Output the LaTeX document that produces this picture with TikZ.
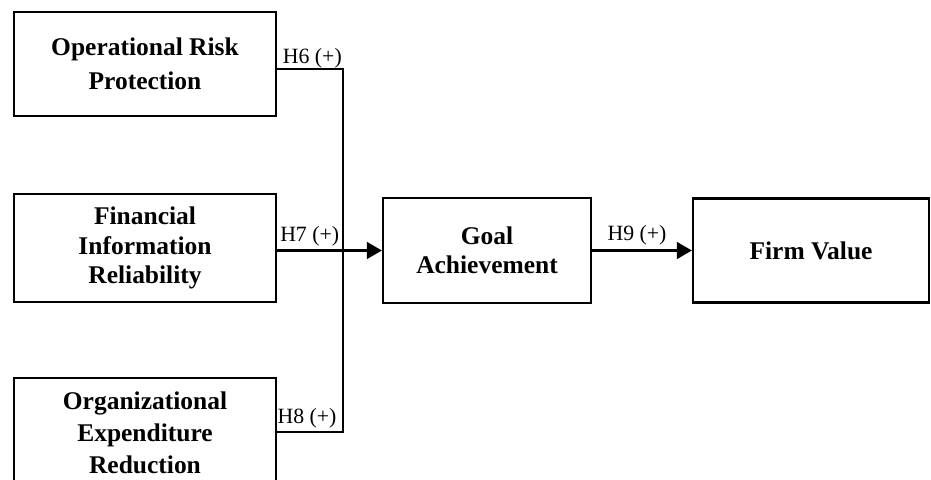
\documentclass[tikz,border=0pt]{standalone}
\usepackage{fontspec}
\setmainfont{Liberation Serif}
\usetikzlibrary{arrows.meta,calc}
\begin{document}
\begin{tikzpicture}[
    box/.style={draw,line width=1.3pt,align=center,inner sep=2pt,
      font=\fontsize{14.5}{19.3}\selectfont\bfseries},
    lbl/.style={font=\fontsize{12.4}{14}\selectfont,inner sep=2pt},
    arr/.style={line width=1.3pt,-{Triangle[length=8.5pt,width=9.5pt]}}]
  \useasboundingbox (0,0) rectangle (18.62,9.58);
  \clip (0,0) rectangle (18.62,9.58);
  % three inputs
  \node[box,minimum width=5.24cm,minimum height=2.08cm] (orp) at (2.90,8.30)
    {Operational Risk\\Protection};
  \node[box,minimum width=5.24cm,minimum height=2.16cm,
    font=\fontsize{14.5}{17}\selectfont\bfseries] (fir) at (2.90,4.62)
    {Financial\\Information\\Reliability};
  \node[box,minimum width=5.24cm,minimum height=2.20cm,
    font=\fontsize{14.5}{18.3}\selectfont\bfseries] (oer) at (2.90,0.92)
    {Organizational\\Expenditure\\Reduction};
  % mediator and outcome
  \node[box,minimum width=4.16cm,minimum height=2.10cm,
    font=\fontsize{14.5}{16.8}\selectfont\bfseries] (goal) at (9.74,4.57)
    {Goal\\Achievement};
  \node[box,minimum width=4.72cm,minimum height=2.08cm] (firm) at (16.22,4.57)
    {Firm Value};
  \coordinate (j6) at (6.86,8.20);
  \coordinate (j8) at (6.86,0.94);
  \draw[line width=1.3pt] (orp.east |- j6) -- (j6) -- (j8) -- (oer.east |- j8);
  \draw[arr] (fir.east |- goal.west) -- (goal.west);
  \draw[arr] (goal.east) -- (firm.west);
  \node[lbl,anchor=south east,inner sep=0.5pt] (h6) at (j6) {H6 (+)};
  \node[lbl,anchor=south east] (h7) at (j6 |- goal.west) {H7 (+)};
  \node[lbl,anchor=south east] (h8) at ([xshift=-1.5pt]j8) {H8 (+)};
  \node[lbl,above=1pt] (h9) at ($(goal.east)!0.45!(firm.west)$) {H9 (+)};
\end{tikzpicture}
\end{document}
